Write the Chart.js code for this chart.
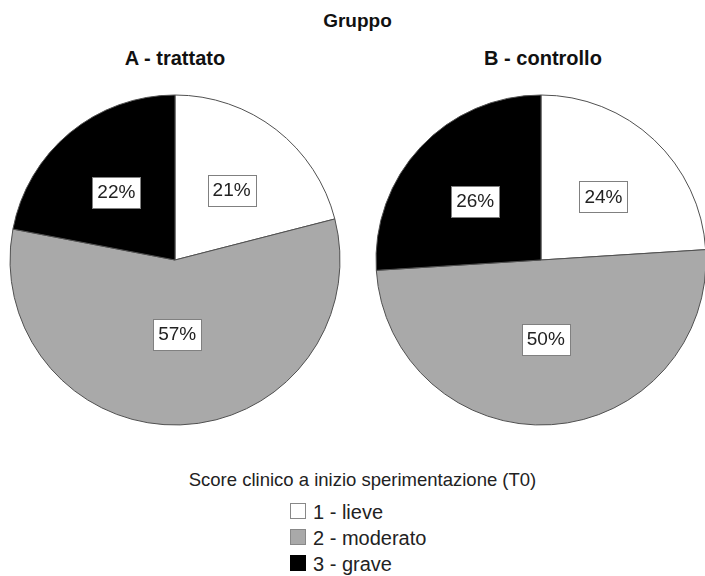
<!DOCTYPE html>
<html>
<head>
<meta charset="utf-8">
<script src="https://cdn.jsdelivr.net/npm/chart.js@4"></script>
<style>
  body {
    margin: 0;
    width: 705px;
    height: 576px;
    overflow: hidden;
    background: #fff;
    position: relative;
    font-family: Arial, "Liberation Sans", sans-serif;
    color: #111;
  }
  .txt { position: absolute; text-align: center; white-space: nowrap; }
  #gruppo { left: 5px; width: 705px; top: 11px; font-size: 19px; line-height: 19px; font-weight: bold; }
  .sub { top: 48px; width: 240px; font-size: 20px; line-height: 20px; font-weight: bold; }
  #subA { left: 55px; }
  #subB { left: 423px; }
  .pie { position: absolute; top: 90px; width: 340px; height: 340px; }
  #boxA { left: 5px; }
  #boxB { left: 371px; }
  #legTitle { left: 10px; width: 705px; top: 470px; font-size: 18.5px; line-height: 19px; color: #222; }
  #legend { position: absolute; left: 290px; top: 499px; }
  .row { height: 26px; line-height: 26px; font-size: 20px; color: #222; display: flex; align-items: center; }
  .sw { width: 14px; height: 14px; border: 1px solid #888; margin-right: 7px; margin-top: -2px; }
</style>
</head>
<body>
<div class="txt" id="gruppo">Gruppo</div>
<div class="txt sub" id="subA">A - trattato</div>
<div class="txt sub" id="subB">B - controllo</div>
<div class="pie" id="boxA"><canvas id="pieA" width="340" height="340"></canvas></div>
<div class="pie" id="boxB"><canvas id="pieB" width="340" height="340"></canvas></div>
<div class="txt" id="legTitle">Score clinico a inizio sperimentazione (T0)</div>
<div id="legend"></div>

<script>
// categorie del punteggio clinico a T0
const categorie = ['1 - lieve', '2 - moderato', '3 - grave'];
const colori = ['#ffffff', '#a9a9a9', '#000000'];
const bordiLegenda = ['#888888', '#888888', '#000000'];

// percentuali per gruppo
const trattato = [21, 57, 22];
const controllo = [24, 50, 26];

// etichette percentuali nei riquadri bianchi
const boxLabels = {
  id: 'boxLabels',
  afterDatasetsDraw(chart) {
    const ctx = chart.ctx;
    const meta = chart.getDatasetMeta(0);
    const values = chart.data.datasets[0].data;
    const total = values.reduce((a, b) => a + b, 0);
    ctx.save();
    ctx.font = '19px Arial, "Liberation Sans", sans-serif';
    ctx.textAlign = 'center';
    ctx.textBaseline = 'middle';
    meta.data.forEach((arc, i) => {
      const p = arc.getProps(['x', 'y', 'startAngle', 'endAngle', 'outerRadius']);
      const theta = p.endAngle - p.startAngle;
      const mid = p.startAngle + theta / 2;
      // a meta strada tra il baricentro dello spicchio e mezzo raggio
      const centroid = 4 * p.outerRadius * Math.sin(theta / 2) / (3 * theta);
      const r = (centroid + p.outerRadius / 2) / 2;
      const x = p.x + Math.cos(mid) * r;
      const y = p.y + Math.sin(mid) * r + 3;
      const text = Math.round(values[i] / total * 100) + '%';
      const w = Math.round(ctx.measureText(text).width + 10);
      const h = 31;
      const bx = Math.round(x - w / 2) + 0.5;
      const by = Math.round(y - h / 2) + 0.5;
      ctx.fillStyle = '#fff';
      ctx.fillRect(bx, by, w, h);
      ctx.strokeStyle = '#808080';
      ctx.lineWidth = 1;
      ctx.strokeRect(bx, by, w, h);
      ctx.fillStyle = '#222';
      ctx.fillText(text, x, y + 1);
    });
    ctx.restore();
  }
};

function makePie(id, values) {
  return new Chart(document.getElementById(id), {
    type: 'pie',
    data: {
      labels: categorie,
      datasets: [{
        data: values,
        backgroundColor: colori,
        borderColor: '#505050',
        borderWidth: 1,
        hoverOffset: 0,
        radius: 165
      }]
    },
    options: {
      responsive: false,
      animation: false,
      layout: { padding: 0 },
      plugins: {
        legend: { display: false },
        tooltip: { enabled: false }
      }
    },
    plugins: [boxLabels]
  });
}

makePie('pieA', trattato);
makePie('pieB', controllo);

// legenda
const legend = document.getElementById('legend');
categorie.forEach((c, i) => {
  const row = document.createElement('div');
  row.className = 'row';
  const sw = document.createElement('span');
  sw.className = 'sw';
  sw.style.background = colori[i];
  sw.style.borderColor = bordiLegenda[i];
  row.appendChild(sw);
  row.appendChild(document.createTextNode(c));
  legend.appendChild(row);
});
</script>
</body>
</html>
